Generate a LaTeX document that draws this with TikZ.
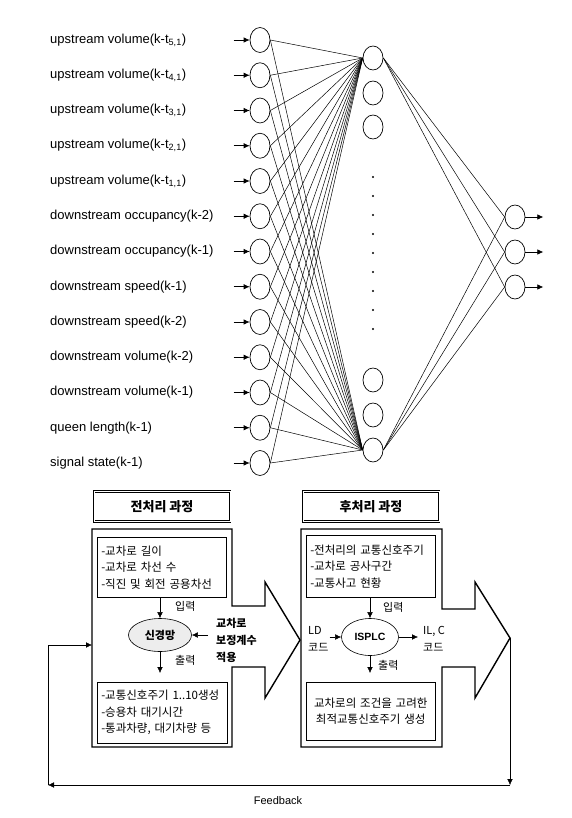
\documentclass[tikz,border=0pt]{standalone}
\usepackage{fontspec}
\setmainfont{Liberation Sans}
\newfontfamily\kr{Noto Sans CJK KR}
\usetikzlibrary{shapes.geometric, arrows.meta, positioning, calc}

\tikzset{
  neuron/.style={draw, ellipse, minimum width=20pt, minimum height=25pt, inner sep=0pt, line width=0.7pt},
  inlabel/.style={anchor=west, inner sep=0pt, font=\fontsize{13}{15}\selectfont},
  tip/.style={-{Latex[length=6pt,width=5.5pt]}},
  wire/.style={line width=0.5pt},
  titlebox/.style={draw, double, double distance=1pt, line width=0.8pt, minimum width=136pt, minimum height=30pt,
                   font=\kr\bfseries\fontsize{13}{15}\selectfont},
  listbox/.style={draw, line width=0.5pt, anchor=north west, inner sep=4pt,
                  font=\kr\fontsize{11.5}{16.5}\selectfont},
  procnode/.style={draw, ellipse, inner sep=0pt, line width=0.6pt},
  smalltxt/.style={anchor=west, inner sep=0pt, align=left, font=\kr\fontsize{11}{17}\selectfont},
  blockarrow/.style={draw, line width=1.4pt, line join=miter}
}

\begin{document}
\begin{tikzpicture}[x=1pt, y=-1pt]
  \useasboundingbox (0,0) rectangle (571,818);

  % input layer
  \foreach \txt [count=\i] in {
      {upstream volume(k-t\textsubscript{5,1})},
      {upstream volume(k-t\textsubscript{4,1})},
      {upstream volume(k-t\textsubscript{3,1})},
      {upstream volume(k-t\textsubscript{2,1})},
      {upstream volume(k-t\textsubscript{1,1})},
      {downstream occupancy(k-2)},
      {downstream occupancy(k-1)},
      {downstream speed(k-1)},
      {downstream speed(k-2)},
      {downstream volume(k-2)},
      {downstream volume(k-1)},
      {queen length(k-1)},
      {signal state(k-1)}} {
    \node[neuron] (in\i) at (260, {40+35.25*(\i-1)}) {};
    \node[inlabel] (lbl\i) at (50, {40+35.25*(\i-1)}) {\txt};
    \draw[tip, line width=0.7pt] ([xshift=-16pt]in\i.west) -- (in\i.west);
  }

  % hidden layer
  \foreach \y [count=\j] in {58, 93, 127, 380, 415, 450}
    \node[neuron, minimum height=24pt] (hid\j) at (373, \y) {};
  \foreach \k in {0,...,8}
    \fill (373, {177+19*\k}) circle (1.1);

  % output layer
  \foreach \y [count=\k] in {217, 252, 287} {
    \node[neuron, minimum height=24pt] (out\k) at (515, \y) {};
    \draw[tip, line width=0.7pt] (out\k.east) -- ([xshift=18pt]out\k.east);
  }

  \foreach \i in {1,...,13} {
    \draw[wire] (in\i.east) -- (hid1.west);
    \draw[wire] (in\i.east) -- (hid6.west);
  }
  \foreach \k in {1,2,3} {
    \draw[wire] (hid1.east) -- (out\k.west);
    \draw[wire] (hid6.east) -- (out\k.west);
  }

  % pre- and post-processing
  \draw[blockarrow] (92,529) -- (232,529) -- (232,606) -- (265,606) -- (265,582) -- (300,640)
    -- (265,698) -- (265,667) -- (232,667) -- (232,747) -- (92,747) -- cycle;
  \draw[blockarrow] (301,529) -- (442,529) -- (442,609) -- (475,609) -- (475,582) -- (510,638)
    -- (475,698) -- (475,667) -- (442,667) -- (442,747) -- (301,747) -- cycle;
  \coordinate (tipR) at (510,638);

  \node[titlebox] (ttlL) at (162,506.5) {전처리 과정};
  \node[titlebox] (ttlR) at (371,506.5) {후처리 과정};

  \node[listbox, minimum width=129pt, minimum height=60pt, text width=121pt, align=left] (inL) at (97,537)
    {-교차로 길이\\-교차로 차선 수\\-직진 및 회전 공용차선};
  \node[procnode, fill=gray!14, minimum width=63pt, minimum height=33pt,
        font=\kr\bfseries\fontsize{11}{12}\selectfont] (sgnet) at (160,635) {신경망};
  \node[listbox, minimum width=130pt, minimum height=61pt, text width=122pt, align=left] (outL) at (97,682)
    {-교통신호주기 1..10생성\\-승용차 대기시간\\-통과차량, 대기차량 등};
  \node[smalltxt, font=\kr\bfseries\fontsize{11}{17}\selectfont] (corr) at (216,640) {교차로\\보정계수\\적용};
  \node[smalltxt] (inLtxt) at (175,606) {입력};
  \node[smalltxt] (outLtxt) at (175,660) {출력};

  \draw[tip] (inL.south -| sgnet) -- (sgnet.north);
  \draw[tip, shorten >=9pt] (sgnet.south) -- (sgnet.south |- outL.north);
  \draw[tip] ([xshift=-8pt]corr.west |- sgnet.east) -- (sgnet.east);

  \node[listbox, minimum width=129pt, minimum height=62pt, text width=121pt, align=left] (inR) at (306,535)
    {-전처리의 교통신호주기\\-교차로 공사구간\\-교통사고 현황};
  \node[procnode, minimum width=57pt, minimum height=37pt,
        font=\bfseries\fontsize{10.5}{12}\selectfont] (isplc) at (370,637) {ISPLC};
  \node[listbox, minimum width=129pt, minimum height=58pt, text width=121pt, align=center] (outR) at (306,682)
    {교차로의 조건을 고려한\\최적교통신호주기 생성};
  \node[smalltxt] (ldtxt) at (308,639) {LD\\코드};
  \node[smalltxt] (iltxt) at (423,639) {IL, C\\코드};
  \node[smalltxt] (inRtxt) at (383,607) {입력};
  \node[smalltxt] (outRtxt) at (378,665) {출력};

  \draw[tip] (inR.south -| isplc) -- (isplc.north);
  \draw[tip, shorten >=9pt] (isplc.south) -- (isplc.south |- outR.north);
  \draw[tip, shorten <=1pt] (ldtxt.east |- isplc.west) -- (isplc.west);
  \draw[tip, shorten >=5pt] (isplc.east) -- (iltxt.west |- isplc.east);

  % feedback loop
  \coordinate (fbR) at (510,785);
  \coordinate (fbL) at (48,785);
  \coordinate (fbIn) at (92,645);
  \draw[tip] (tipR) -- (fbR);
  \draw[tip] (fbR) -- (fbL);
  \draw[tip] (fbL) |- (fbIn);
  \node[font=\fontsize{11}{13}\selectfont] (fbtxt) at (278,801) {Feedback};
\end{tikzpicture}
\end{document}
